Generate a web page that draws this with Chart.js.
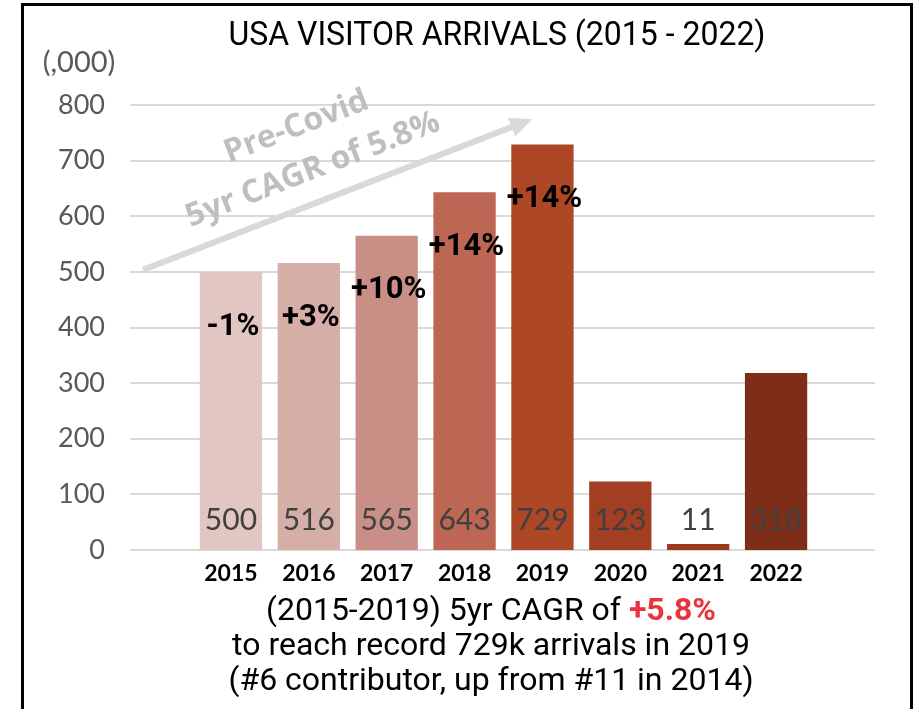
<!DOCTYPE html>
<html>
<head>
<meta charset="utf-8">
<script src="https://cdn.jsdelivr.net/npm/chart.js@4"></script>
<style>
  body { margin: 0; background: #fff; }
  #wrap { width: 918px; height: 709px; position: relative; }
</style>
</head>
<body>
<div id="wrap"><canvas id="chart_usa"></canvas></div>
<script>
const years = ["2015", "2016", "2017", "2018", "2019", "2020", "2021", "2022"];
const arrivals = [500, 516, 565, 643, 729, 123, 11, 318];
const growth = ["-1%", "+3%", "+10%", "+14%", "+14%"];
const barColors = ["#e2c6c2", "#d5aea7", "#c98f87", "#bc6653", "#ae4726", "#a23e22", "#9b3a1f", "#7e2e18"];
const yTicks = [0, 100, 200, 300, 400, 500, 600, 700, 800];

const title = "USA VISITOR ARRIVALS (2015 - 2022)";
const unitLabel = "(,000)";
const notes = [
  [["(2015-2019) 5yr CAGR of ", "#000", false], ["+5.8%", "#e8343c", true]],
  [["to reach record 729k arrivals in 2019", "#000", false]],
  [["(#6 contributor, up from #11 in 2014)", "#000", false]]
];

// horizontal gridlines running wider than the bars
const gridPlugin = {
  id: "gridPlugin",
  beforeDatasetsDraw(chart) {
    const ctx = chart.ctx, y = chart.scales.y;
    ctx.save();
    ctx.strokeStyle = "#d9d9d9";
    ctx.lineWidth = 2;
    yTicks.forEach(v => {
      const py = Math.round(y.getPixelForValue(v));
      ctx.beginPath();
      ctx.moveTo(130, py);
      ctx.lineTo(875, py);
      ctx.stroke();
    });
    ctx.restore();
  }
};

const extrasPlugin = {
  id: "extrasPlugin",
  afterDatasetsDraw(chart) {
    const ctx = chart.ctx, y = chart.scales.y;
    const bars = chart.getDatasetMeta(0).data;
    ctx.save();

    // values near the base of each bar
    ctx.font = "30px Lato";
    ctx.fillStyle = "#404040";
    ctx.textAlign = "center";
    ctx.textBaseline = "middle";
    bars.forEach((b, i) => ctx.fillText(String(arrivals[i]), b.x, y.getPixelForValue(0) - 30));

    // yearly growth
    ctx.font = "bold 31px Roboto";
    ctx.fillStyle = "#000";
    growth.forEach((g, i) => ctx.fillText(g, bars[i].x + 2, bars[i].y + 55));

    // pre-covid trend arrow
    const x0 = chart.chartArea.left - 49, y0 = y.getPixelForValue(500) - 2;
    const x1 = bars[4].x - 14, y1 = y.getPixelForValue(772);
    const ang = Math.atan2(y1 - y0, x1 - x0);
    ctx.strokeStyle = "#d9d9d9";
    ctx.fillStyle = "#d9d9d9";
    ctx.lineWidth = 6;
    ctx.beginPath();
    ctx.moveTo(x0, y0);
    ctx.lineTo(x1 - 14 * Math.cos(ang), y1 - 14 * Math.sin(ang));
    ctx.stroke();
    ctx.save();
    ctx.translate(x1, y1);
    ctx.rotate(ang);
    ctx.beginPath();
    ctx.moveTo(4, 0);
    ctx.lineTo(-18, -10);
    ctx.lineTo(-18, 10);
    ctx.closePath();
    ctx.fill();
    ctx.restore();

    ctx.save();
    ctx.translate((x0 + x1) / 2, (y0 + y1) / 2);
    ctx.rotate(ang);
    ctx.fillStyle = "#bfbfbf";
    ctx.font = "bold 32px 'Open Sans'";
    ctx.fillText("Pre-Covid", -12, -78);
    ctx.fillText("5yr CAGR of 5.8%", -12, -32);
    ctx.restore();

    // title and unit
    ctx.fillStyle = "#000";
    ctx.font = "33px Roboto";
    ctx.fillText(title, 497, 37, 537);
    ctx.fillStyle = "#595959";
    ctx.font = "29px Lato";
    ctx.fillText(unitLabel, 79, 63);

    // notes below the axis
    notes.forEach((line, li) => {
      const fonts = line.map(p => (p[2] ? "bold " : "") + "32px Roboto");
      let total = 0;
      line.forEach((p, k) => { ctx.font = fonts[k]; total += ctx.measureText(p[0]).width; });
      let x = 491 - total / 2;
      ctx.textAlign = "left";
      line.forEach((p, k) => {
        ctx.font = fonts[k];
        ctx.fillStyle = p[1];
        ctx.fillText(p[0], x, 612 + li * 35);
        x += ctx.measureText(p[0]).width;
      });
    });

    // frame
    ctx.strokeStyle = "#000";
    ctx.lineWidth = 3;
    ctx.strokeRect(22.5, 4.5, 889, 720);
    ctx.restore();
  }
};

const chart_usa = new Chart("chart_usa", {
  type: "bar",
  data: {
    labels: years,
    datasets: [{
      data: arrivals,
      backgroundColor: barColors,
      barPercentage: 0.8,
      categoryPercentage: 1
    }]
  },
  options: {
    responsive: true,
    maintainAspectRatio: false,
    animation: false,
    layout: { padding: { top: 105, right: 103, left: 0, bottom: 0 } },
    plugins: { legend: { display: false }, tooltip: { enabled: false } },
    scales: {
      y: {
        min: 0,
        max: 800,
        afterBuildTicks: s => { s.ticks = yTicks.map(v => ({ value: v })); },
        afterFit: s => { s.width = 192; },
        grid: { display: false, drawTicks: false },
        border: { display: false },
        ticks: { color: "#595959", font: { family: "Lato", size: 27 }, padding: 87 }
      },
      x: {
        afterFit: s => { s.height = 159; },
        grid: { display: false, drawTicks: false },
        border: { display: false },
        ticks: { color: "#000", font: { family: "Lato", size: 23, weight: "bold" }, padding: 10 }
      }
    }
  },
  plugins: [gridPlugin, extrasPlugin]
});
</script>
</body>
</html>
